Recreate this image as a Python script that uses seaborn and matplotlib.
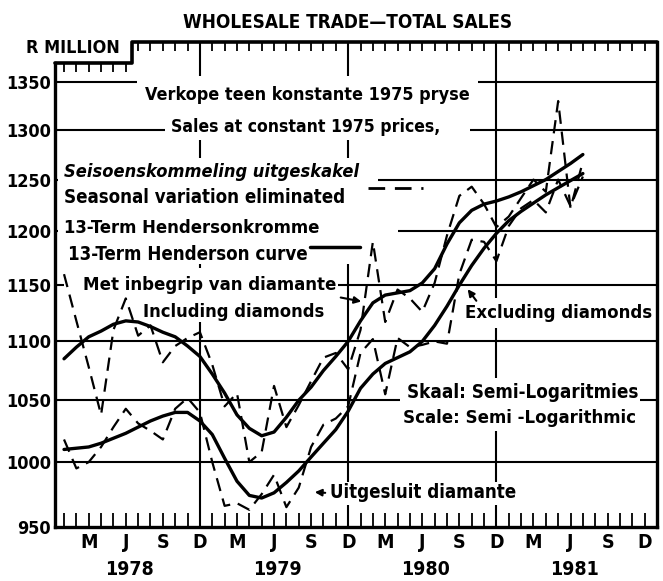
import numpy as np
import pandas as pd
import seaborn as sns
import matplotlib.pyplot as plt
from matplotlib import transforms
from matplotlib.patches import Rectangle

# --- data (R million, constant 1975 prices) ---
months = pd.date_range('1978-01-01', periods=43, freq='MS')

# including diamonds, seasonally adjusted (dashed)
incl_sa = [1160, 1118, 1078, 1038, 1110, 1138, 1105, 1114, 1082, 1096, 1103, 1108,
           1080, 1045, 1056, 1000, 1008, 1062, 1028, 1046, 1066, 1086, 1090, 1076,
           1110, 1190, 1117, 1146, 1138, 1126, 1152, 1196, 1234, 1243, 1226, 1204,
           1214, 1232, 1250, 1238, 1330, 1222, 1268]
# including diamonds, 13-term Henderson (solid)
incl_hend = [1085, 1095, 1104, 1109, 1115, 1118, 1117, 1113, 1108, 1104, 1096, 1087,
             1072, 1056, 1038, 1027, 1021, 1024, 1036, 1050, 1061, 1075, 1087, 1100,
             1118, 1134, 1141, 1143, 1145, 1152, 1165, 1188, 1208, 1220, 1226, 1229,
             1233, 1238, 1244, 1250, 1258, 1266, 1275]
# excluding diamonds, seasonally adjusted (dashed)
excl_sa = [1018, 995, 1000, 1012, 1028, 1043, 1031, 1025, 1018, 1043, 1052, 1040,
           1000, 966, 968, 963, 975, 990, 965, 980, 1012, 1030, 1035, 1045,
           1090, 1102, 1055, 1103, 1095, 1097, 1100, 1098, 1160, 1192, 1190, 1172,
           1205, 1222, 1230, 1218, 1250, 1224, 1253]
# excluding diamonds, 13-term Henderson (solid)
excl_hend = [1010, 1011, 1012, 1015, 1019, 1023, 1028, 1033, 1037, 1040, 1040, 1033,
             1022, 1003, 985, 974, 972, 976, 984, 993, 1004, 1015, 1026, 1041,
             1060, 1072, 1081, 1086, 1091, 1100, 1114, 1131, 1150, 1168, 1184, 1198,
             1210, 1219, 1227, 1235, 1242, 1249, 1256]

y_ticks = [950, 1000, 1050, 1100, 1150, 1200, 1250, 1300, 1350]
month_letters = ['M', 'J', 'S', 'D']
years = ['1978', '1979', '1980', '1981']

df = pd.DataFrame({'date': months, 'incl_sa': incl_sa, 'incl_hend': incl_hend,
                   'excl_sa': excl_sa, 'excl_hend': excl_hend})
df['m'] = (df['date'].dt.year - 1978) * 12 + df['date'].dt.month - 1

sns.set_theme(style='white')
plt.rcParams['font.family'] = ['DejaVu Sans']
plt.rcParams['font.stretch'] = 'condensed'
plt.rcParams['font.weight'] = 'bold'
for k in ['text.color', 'xtick.color', 'ytick.color', 'axes.labelcolor']:
    plt.rcParams[k] = 'black'

W, H = 663, 581
fig = plt.figure(figsize=(W / 100, H / 100), dpi=100)
ax = fig.add_axes([55 / W, 1 - 527 / H, (657 - 55) / W, (527 - 42) / H])
ax.set_facecolor('white')
renderer = fig.canvas.get_renderer()


def px(x, y):
    return x / W, 1 - y / H


ax.set_yscale('log')
ax.set_ylim(950, 1393.5)
ax.set_xlim(-0.73, 48.0)

# grid
for v in y_ticks[1:]:
    ax.axhline(v, color='black', lw=1.5, zorder=1)
for m in [11, 23, 35]:
    ax.axvline(m, color='black', lw=1.5, zorder=1)

# white blocks behind the captions (break the grid like the original)
for (x0, y0, x1, y1) in [(137, 76, 478, 112), (165, 112, 470, 140),
                         (58, 158, 378, 212), (58, 212, 398, 264), (64, 268, 338, 322),
                         (400, 378, 640, 431), (462, 298, 655, 328), (328, 482, 520, 505)]:
    ax.add_patch(Rectangle(px(x0, y1), (x1 - x0) / W, (y1 - y0) / H,
                           transform=fig.transFigure, facecolor='white',
                           edgecolor='none', zorder=2, clip_on=False))

dash = (6, 3.5)
sns.lineplot(data=df, x='m', y='incl_sa', ax=ax, color='black', lw=1.6,
             zorder=3).lines[-1].set_dashes(dash)
sns.lineplot(data=df, x='m', y='incl_hend', ax=ax, color='black', lw=2.4, zorder=3)
sns.lineplot(data=df, x='m', y='excl_sa', ax=ax, color='black', lw=1.6,
             zorder=3).lines[-1].set_dashes(dash)
sns.lineplot(data=df, x='m', y='excl_hend', ax=ax, color='black', lw=2.4, zorder=3)

# axes / frame with the stepped top edge
for s in ['left', 'bottom', 'right']:
    ax.spines[s].set_color('black')
    ax.spines[s].set_linewidth(2.4)
ax.spines['top'].set_visible(False)
step_y = (527 - 63) / (527 - 42)
ax.spines['left'].set_bounds(950, 1370.6)
blend = transforms.blended_transform_factory(ax.transData, ax.transAxes)
ax.plot([-0.73, 5.5, 5.5, 48.0], [step_y, step_y, 1, 1], color='black', lw=2.6,
        transform=blend, clip_on=False, zorder=4)
tick_m = np.arange(0, 48)
top_y = np.where(tick_m < 5.5, step_y, 1.0)
ax.vlines(tick_m, top_y - 0.019, top_y, color='black', lw=1.3, transform=blend,
          clip_on=False, zorder=4)

ax.set_yticks(y_ticks)
ax.set_yticklabels([str(v) for v in y_ticks], fontsize=13, fontweight='bold')
ax.yaxis.set_minor_locator(plt.NullLocator())
ax.tick_params(axis='y', length=0, pad=3)

q = [2 + 3 * i for i in range(16)]
ax.set_xticks(q)
ax.set_xticklabels([month_letters[i % 4] for i in range(16)], fontsize=14,
                   fontweight='bold')
ax.set_xticks(tick_m, minor=True)
ax.tick_params(axis='x', which='both', direction='in', length=10, width=1.3,
               bottom=True, pad=4, color='black')
ax.set_xlabel('')
ax.set_ylabel('')

for i, yr in enumerate(years):
    ax.text(5.3 + 12 * i, -0.087, yr, transform=blend, ha='center', va='center',
            fontsize=14, fontweight='bold')


# captions, sized so each spans roughly the width it has in the original
def cap(x, y, s, width, ha='left', style='normal', maxsize=15):
    t = ax.text(*px(x, y), s, transform=fig.transFigure, ha=ha, va='center',
                fontsize=10, fontweight='bold', style=style, zorder=5)
    w = t.get_window_extent(renderer).width
    t.set_fontsize(min(maxsize, 10 * width / w))
    return t


cap(348, 22, 'WHOLESALE TRADE—TOTAL SALES', 330, ha='center', maxsize=15)
cap(73, 48, 'R MILLION', 93, ha='center', maxsize=14)
cap(307, 95, 'Verkope teen konstante 1975 pryse', 323, ha='center')
cap(306, 127, 'Sales at constant 1975 prices,', 268, ha='center')
cap(64, 172, 'Seisoenskommeling uitgeskakel', 293, style='italic')
cap(64, 198, 'Seasonal variation eliminated', 280)
cap(64, 228, '13-Term Hendersonkromme', 255)
cap(68, 255, '13-Term Henderson curve', 239)
cap(83, 285, 'Met inbegrip van diamante', 252)
cap(143, 312, 'Including diamonds', 180)
cap(465, 313, 'Excluding diamonds', 186)
cap(407, 392, 'Skaal: Semi-Logaritmies', 229)
cap(403, 418, 'Scale: Semi -Logarithmic', 231)
cap(330, 493, 'Uitgesluit diamante', 186)

# legend samples
ax.plot([368 / W, 423 / W], [1 - 188 / H] * 2, transform=fig.transFigure, color='black',
        lw=2, dashes=(6, 3.5), zorder=5)
ax.plot([310 / W, 360 / W], [1 - 247 / H] * 2, transform=fig.transFigure, color='black',
        lw=2.5, zorder=5)

# pointer arrows
for tip, tail in [((364, 302), (338, 297)), ((466, 287), (478, 303)), ((312, 492), (328, 493))]:
    ax.annotate('', xy=px(*tip), xytext=px(*tail), xycoords='figure fraction',
                textcoords='figure fraction',
                arrowprops=dict(arrowstyle='-|>', color='black', lw=1.5,
                                mutation_scale=10), zorder=5)

fig.savefig('out.png', dpi=100)
